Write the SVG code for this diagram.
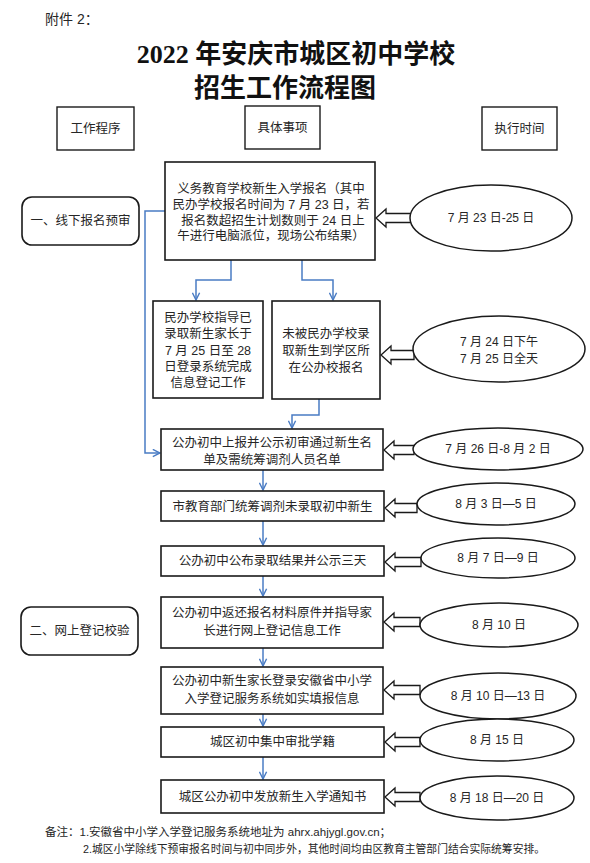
<svg xmlns="http://www.w3.org/2000/svg" width="590" height="863" viewBox="0 0 590 863">
<defs>
<style>
.bg{fill:#fff}
.box{fill:#fff;stroke:#1a1a1a;stroke-width:1.6}
.hbox{fill:#fff;stroke:#1a1a1a;stroke-width:1.4}
.rbox{fill:#fff;stroke:#1a1a1a;stroke-width:1.6}
.ell{fill:#fff;stroke:#1a1a1a;stroke-width:1.5}
.harr{fill:#fff;stroke:#1a1a1a;stroke-width:1.3;stroke-linejoin:miter}
.con{fill:none;stroke:#4a7cc4;stroke-width:1.5}
text{font-family:"Liberation Sans","Noto Sans CJK SC",sans-serif;fill:#262626;dominant-baseline:central}
.t{font-size:12.5px;text-anchor:middle}
.e{font-size:12px;text-anchor:middle}
.h{font-size:12.5px;text-anchor:middle}
.title{font-family:"Liberation Serif","Noto Sans CJK SC",serif;font-weight:bold;font-size:26px;fill:#111;text-anchor:middle;dominant-baseline:alphabetic}
.note{font-size:11.5px}
</style>
<marker id="arr" viewBox="0 0 10 10" refX="9" refY="5" markerWidth="9" markerHeight="9" markerUnits="userSpaceOnUse" orient="auto">
<path d="M1,1 L9,5 L1,9" fill="none" stroke="#4a7cc4" stroke-width="1.6"/>
</marker>
</defs>
<rect class="bg" x="0" y="0" width="590" height="863"/>

<g id="header">
<text x="45" y="19" style="font-size:14px">附件 2：</text>
<text class="title" x="296" y="63">2022 年安庆市城区初中学校</text>
<text class="title" x="285" y="97">招生工作流程图</text>
</g>

<g id="col-headers">
<g id="h1"><rect class="hbox" x="57" y="107" width="77" height="43"/><text class="h" x="95.5" y="128.5">工作程序</text></g>
<g id="h2"><rect class="hbox" x="245" y="106" width="75" height="43"/><text class="h" x="282.5" y="127.5">具体事项</text></g>
<g id="h3"><rect class="hbox" x="482" y="107" width="75" height="43"/><text class="h" x="519.5" y="128.5">执行时间</text></g>
</g>

<g id="stage1"><rect class="rbox" x="22" y="197" width="117" height="48" rx="10"/><text class="h" x="80.5" y="221">一、线下报名预审</text></g>
<g id="stage2"><rect class="rbox" x="21" y="607" width="117" height="48" rx="10"/><text class="h" x="79.5" y="631">二、网上登记校验</text></g>

<g id="connectors">
<polyline class="con" points="165,211 145,211 145,453 160,453" marker-end="url(#arr)"/>
<polyline class="con" points="231,260 231,280 196,280 196,300" marker-end="url(#arr)"/>
<polyline class="con" points="302,260 302,280 333,280 333,300" marker-end="url(#arr)"/>
<polyline class="con" points="319,399 319,415 292,415 292,428" marker-end="url(#arr)"/>
<line class="con" x1="263" y1="470" x2="263" y2="490" marker-end="url(#arr)"/>
<line class="con" x1="263" y1="521" x2="263" y2="545" marker-end="url(#arr)"/>
<line class="con" x1="263" y1="576" x2="263" y2="596" marker-end="url(#arr)"/>
<line class="con" x1="263" y1="648" x2="263" y2="666" marker-end="url(#arr)"/>
<line class="con" x1="263" y1="714" x2="263" y2="726" marker-end="url(#arr)"/>
<line class="con" x1="263" y1="757" x2="263" y2="779" marker-end="url(#arr)"/>
</g>

<g id="time-arrows">
<polygon class="harr" points="376,218 386,209 386,213.5 411,213.5 411,222.5 386,222.5 386,227"/>
<polygon class="harr" points="381,355 391,346 391,350.5 414,350.5 414,359.5 391,359.5 391,364"/>
<polygon class="harr" points="384,450 394,441 394,445.5 414,445.5 414,454.5 394,454.5 394,459"/>
<polygon class="harr" points="385,508 395,499 395,503.5 417,503.5 417,512.5 395,512.5 395,517"/>
<polygon class="harr" points="385,562 395,553 395,557.5 421,557.5 421,566.5 395,566.5 395,571"/>
<polygon class="harr" points="384,622 394,613 394,617.5 420,617.5 420,626.5 394,626.5 394,631"/>
<polygon class="harr" points="384,690 394,681 394,685.5 420,685.5 420,694.5 394,694.5 394,699"/>
<polygon class="harr" points="385,742 395,733 395,737.5 420,737.5 420,746.5 395,746.5 395,751"/>
<polygon class="harr" points="385,797 395,788 395,792.5 420,792.5 420,801.5 395,801.5 395,806"/>
</g>

<g id="n1"><rect class="box" x="165" y="162" width="210" height="98"/>
<text class="t" x="271" y="189">义务教育学校新生入学报名（其中</text>
<text class="t" x="271" y="205">民办学校报名时间为 7 月 23 日，若</text>
<text class="t" x="273" y="220.5">报名数超招生计划数则于 24 日上</text>
<text class="t" x="271" y="236">午进行电脑派位，现场公布结果）</text>
</g>
<g id="n2"><rect class="box" x="153" y="301" width="110" height="97"/>
<text class="t" x="208" y="318">民办学校指导已</text>
<text class="t" x="208" y="334">录取新生家长于</text>
<text class="t" x="208" y="350.5">7 月 25 日至 28</text>
<text class="t" x="208" y="367">日登录系统完成</text>
<text class="t" x="208" y="383">信息登记工作</text>
</g>
<g id="n3"><rect class="box" x="272" y="301" width="108" height="98"/>
<text class="t" x="326" y="334">未被民办学校录</text>
<text class="t" x="326" y="351">取新生到学区所</text>
<text class="t" x="326" y="368">在公办校报名</text>
</g>
<g id="n4"><rect class="box" x="161" y="429" width="222" height="41"/>
<text class="t" x="272" y="442.5">公办初中上报并公示初审通过新生名</text>
<text class="t" x="272" y="459.5">单及需统筹调剂人员名单</text>
</g>
<g id="n5"><rect class="box" x="161" y="491" width="223" height="30"/>
<text class="t" x="272.5" y="506.5">市教育部门统筹调剂未录取初中新生</text>
</g>
<g id="n6"><rect class="box" x="161" y="546" width="223" height="30"/>
<text class="t" x="272.5" y="561">公办初中公布录取结果并公示三天</text>
</g>
<g id="n7"><rect class="box" x="161" y="597" width="222" height="51"/>
<text class="t" x="272" y="613">公办初中返还报名材料原件并指导家</text>
<text class="t" x="272" y="631">长进行网上登记信息工作</text>
</g>
<g id="n8"><rect class="box" x="161" y="667" width="222" height="47"/>
<text class="t" x="272" y="681">公办初中新生家长登录安徽省中小学</text>
<text class="t" x="272" y="699">入学登记服务系统如实填报信息</text>
</g>
<g id="n9"><rect class="box" x="161" y="727" width="223" height="30"/>
<text class="t" x="272.5" y="742">城区初中集中审批学籍</text>
</g>
<g id="n10"><rect class="box" x="161" y="780" width="223" height="33"/>
<text class="t" x="272.5" y="796.5">城区公办初中发放新生入学通知书</text>
</g>

<g id="e1"><ellipse class="ell" cx="491" cy="218" rx="81" ry="33"/><text class="e" x="491" y="218">7 月 23 日-25 日</text></g>
<g id="e2"><ellipse class="ell" cx="499" cy="349" rx="86" ry="33"/><text class="e" x="499" y="342">7 月 24 日下午</text><text class="e" x="499" y="359">7 月 25 日全天</text></g>
<g id="e3"><ellipse class="ell" cx="498" cy="449" rx="85" ry="21"/><text class="e" x="498" y="449">7 月 26 日-8 月 2 日</text></g>
<g id="e4"><ellipse class="ell" cx="496" cy="504" rx="79" ry="21"/><text class="e" x="496" y="504">8 月 3 日—5 日</text></g>
<g id="e5"><ellipse class="ell" cx="498" cy="558" rx="77" ry="20"/><text class="e" x="498" y="558">8 月 7 日—9 日</text></g>
<g id="e6"><ellipse class="ell" cx="499" cy="625" rx="79" ry="22"/><text class="e" x="499" y="625">8 月 10 日</text></g>
<g id="e7"><ellipse class="ell" cx="498" cy="696" rx="78" ry="23"/><text class="e" x="498" y="696">8 月 10 日—13 日</text></g>
<g id="e8"><ellipse class="ell" cx="497" cy="740" rx="77" ry="21"/><text class="e" x="497" y="740">8 月 15 日</text></g>
<g id="e9"><ellipse class="ell" cx="497" cy="798" rx="77" ry="22"/><text class="e" x="497" y="798">8 月 18 日—20 日</text></g>

<g id="notes">
<text class="note" x="45" y="832">备注：1.安徽省中小学入学登记服务系统地址为 ahrx.ahjygl.gov.cn；</text>
<text class="note" x="83" y="849" textLength="462" lengthAdjust="spacingAndGlyphs">2.城区小学除线下预审报名时间与初中同步外，其他时间均由区教育主管部门结合实际统筹安排。</text>
</g>
</svg>
